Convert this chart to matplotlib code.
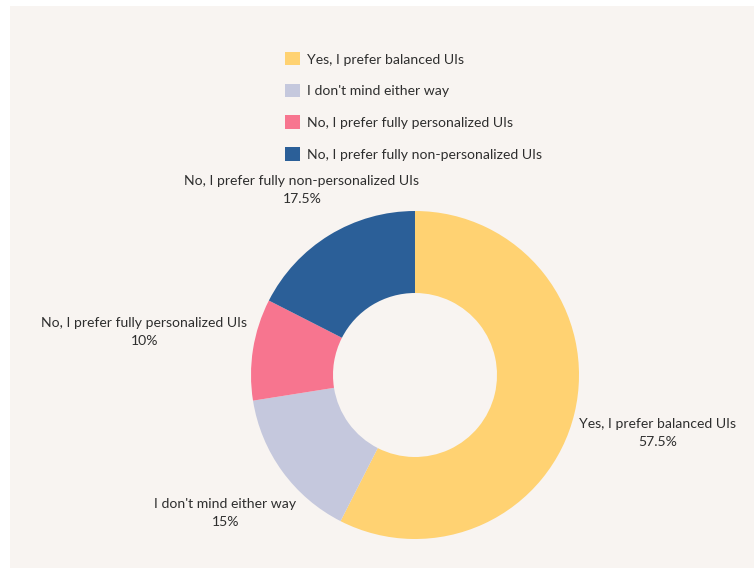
import numpy as np
import matplotlib.pyplot as plt
from matplotlib.patches import Rectangle

plt.rcParams['font.family'] = ['Lato', 'DejaVu Sans']

labels = ['Yes, I prefer balanced UIs', "I don't mind either way",
          'No, I prefer fully personalized UIs', 'No, I prefer fully non-personalized UIs']
shares = [57.5, 15, 10, 17.5]
pct_text = ['57.5%', '15%', '10%', '17.5%']
colors = ['#FFD272', '#C5C8DD', '#F7758F', '#2B5F98']
label_dist = [1.52, 1.43, 1.67, 1.32]

W, H = 754, 569
fig = plt.figure(figsize=(W / 100, H / 100), dpi=100)
fig.patch.set_facecolor('white')
fig.patches.append(Rectangle((10 / W, 1 - 568 / H), (W - 10) / W, (568 - 6) / H,
                             transform=fig.transFigure, facecolor='#F8F4F1',
                             edgecolor='none', zorder=-5))

# axes in pixel-like units, 1 unit = pie radius
R = 164
cx, cy = 415, 375
ax = fig.add_axes([0, 0, 1, 1], zorder=2)
ax.patch.set_alpha(0)

wedges, _ = ax.pie(shares, colors=colors, startangle=90, counterclock=False,
                   radius=1, wedgeprops=dict(width=0.5, edgecolor='none'))
ax.set_aspect('auto')
ax.set_xlim(-cx / R, (W - cx) / R)
ax.set_ylim(-(H - cy) / R, cy / R)
ax.axis('off')

txt_color = '#2E2E2E'
for w, lab, pct, d in zip(wedges, labels, pct_text, label_dist):
    ang = np.deg2rad((w.theta1 + w.theta2) / 2)
    x, y = d * np.cos(ang), d * np.sin(ang)
    ax.text(x, y, f'{lab}\n{pct}', ha='center', va='center', fontsize=10.1,
            color=txt_color, linespacing=1.6)

fig.legend(wedges, labels, loc='upper left', bbox_to_anchor=(285 / W, 1 - 52 / H),
           frameon=False, fontsize=10.1, handlelength=1.1, handleheight=1.1,
           handletextpad=0.45, labelspacing=1.3, borderpad=0, borderaxespad=0,
           labelcolor=txt_color)

fig.savefig('out.png', dpi=100)
